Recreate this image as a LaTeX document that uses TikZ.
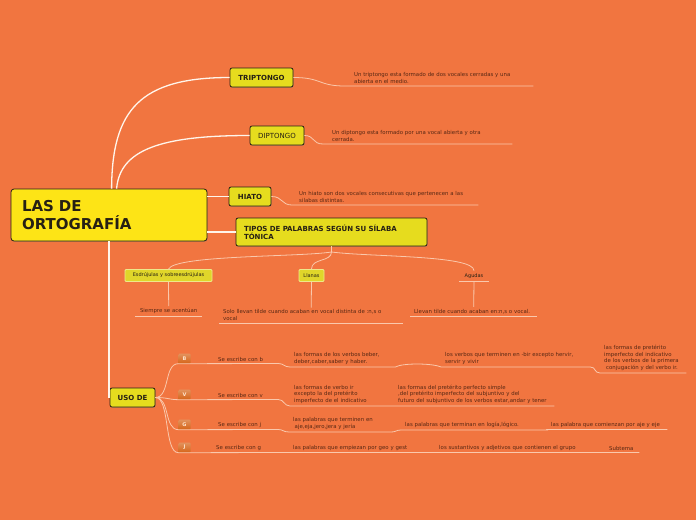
\documentclass[tikz,border=0pt]{standalone}
\usepackage{fontspec}
\setmainfont{DejaVu Sans}
\usetikzlibrary{shadows}
\definecolor{bgorange}{RGB}{241,117,64}
\definecolor{mainyellow}{RGB}{253,228,22}
\definecolor{topicyellow}{RGB}{230,220,30}
\definecolor{subyellow}{RGB}{224,214,42}
\definecolor{letterorange}{RGB}{214,100,24}
\definecolor{inkdark}{RGB}{38,32,20}
\definecolor{inkbrown}{RGB}{88,40,20}
\definecolor{twigpeach}{RGB}{250,200,172}

\begin{document}
\begin{tikzpicture}[x=1pt,y=-1pt,
  topic/.style={draw=inkdark,line width=0.8pt,fill=topicyellow,rounded corners=2pt,text=inkdark,
    font=\fontsize{7}{8}\selectfont\bfseries,inner sep=0pt,minimum height=19pt,
    drop shadow={shadow xshift=0.6pt,shadow yshift=-0.8pt,opacity=0.35}},
  subtopic/.style={draw=subyellow!55!white,line width=0.9pt,fill=subyellow,rounded corners=1pt,
    text=inkdark,font=\fontsize{5}{6}\selectfont,inner sep=0pt,minimum height=12pt},
  letter/.style={top color=letterorange!70!white,bottom color=letterorange,draw=none,rounded corners=1pt,
    text=white!80!orange,font=\fontsize{5}{5}\selectfont\bfseries,minimum width=12pt,minimum height=10pt,inner sep=0pt},
  leaf/.style={anchor=south west,inner xsep=4pt,inner ysep=2pt,align=left,text=inkbrown,
    font=\fontsize{5.4}{6.8}\selectfont},
  branch/.style={draw=white!92!orange,line width=1.3pt},
  twig/.style={draw=twigpeach,line width=0.8pt}]

\useasboundingbox (0,0) rectangle (696,520);
\fill[bgorange] (0,0) rectangle (696,520);

\node[draw=inkdark,line width=0.8pt,fill=mainyellow,rounded corners=3pt,text=inkdark,
  font=\fontsize{15}{18}\selectfont\bfseries,minimum width=196pt,minimum height=52pt,
  text width=174pt,inner xsep=11pt,align=left,
  drop shadow={shadow xshift=0.6pt,shadow yshift=-0.8pt,opacity=0.35}] (ortografia) at (109,215) {LAS DE\\ORTOGRAFÍA};

\node[topic,minimum width=63pt] (triptongo) at (261.5,77.5) {TRIPTONGO};
\node[topic,minimum width=54pt,font=\fontsize{7}{8}\selectfont] (diptongo) at (277,135.5) {DIPTONGO};
\node[topic,minimum width=42pt] (hiato) at (250,196.5) {HIATO};
\node[topic,minimum height=28pt,text width=175pt,inner xsep=8pt,align=left] (tipos) at (331.5,232) {TIPOS DE PALABRAS SEGÚN SU SÍLABA\\TÓNICA};
\node[topic,minimum width=45pt] (uso) at (132.5,397.5) {USO DE};

\node[leaf,inner xsep=9pt,text width=170pt] (tripnote) at (345,86) {Un triptongo esta formado de dos vocales cerradas y una\\abierta en el medio.};
\node[leaf,inner xsep=9pt,text width=171pt] (dipnote) at (323,144) {Un diptongo esta formado por una vocal abierta y otra\\cerrada.};
\node[leaf,inner xsep=7pt,text width=172pt] (hiatonote) at (292,205) {Un hiato son dos vocales consecutivas que pertenecen a las\\silabas distintas.};

\node[subtopic,minimum width=87pt] (esdrujulas) at (168.5,275.5) {Esdrújulas y sobreesdrújulas};
\node[subtopic,minimum width=25pt] (llanas) at (311.5,275.5) {Llanas};
\node[anchor=south,text=inkdark,font=\fontsize{5}{6}\selectfont,inner sep=0pt,minimum width=29pt,minimum height=10pt] (agudas) at (474,281) {Agudas};
\coordinate (tiposfork) at (331.5,252);

\node[leaf,align=center,text width=59pt] (siempre) at (135,316) {Siempre se acentúan};
\node[leaf,text width=176pt] (solo) at (219,323) {Solo llevan tilde cuando acaban en vocal distinta de :n,s o\\vocal};
\node[leaf,text width=119pt] (llevan) at (410,316) {Llevan tilde cuando acaban en:n,s o vocal.};

\node[letter] (lb) at (184.5,358.5) {B};
\node[letter] (lv) at (184.5,394.5) {V};
\node[letter] (lg) at (184.5,424.5) {G};
\node[letter] (lj) at (184.5,447.5) {J};

\node[leaf,text width=56pt] (bsub) at (214,363.5) {Se escribe con b};
\node[leaf,text width=97pt] (b1) at (290,367) {las formas de los verbos beber,\\deber,caber,saber y haber.};
\node[leaf,text width=141pt] (b2) at (441,367) {los verbos que terminen en -bir excepto hervir,\\servir y vivir};
\node[leaf,text width=78pt] (b3) at (600,373) {las formas de pretérito\\imperfecto del indicativo\\de los verbos de la primera\\\hspace{2pt}conjugación y del verbo ir.};

\node[leaf,text width=56pt] (vsub) at (214,399.5) {Se escribe con v};
\node[leaf,text width=95pt] (v1) at (290,406) {las formas de verbo ir\\excepto la del pretérito\\imperfecto de el indicativo};
\node[leaf,text width=152pt] (v2) at (394,406) {las formas del pretérito perfecto simple\\,del pretérito imperfecto del subjuntivo y del\\futuro del subjuntivo de los verbos estar,andar y tener};

\node[leaf,text width=56pt] (gsub) at (214,429.5) {Se escribe con j};
\node[leaf,text width=94pt] (g1) at (289,432) {las palabras que terminen en\\\hspace{1.5pt}aje,eja,jero,jera y jería};
\node[leaf,text width=138pt] (g2) at (401,430) {las palabras que terminan en logía,lógico.};
\node[leaf,text width=112pt] (g3) at (547,429.5) {las palabra que comienzan por aje y eje};

\node[leaf,text width=69pt] (jsub) at (212,452.5) {Se escribe con g};
\node[leaf,text width=138pt] (j1) at (289,452.5) {las palabras que empiezan por geo y gest};
\node[leaf,text width=162pt] (j2) at (435,452.5) {los sustantivos y adjetivos que contienen el grupo};
\node[leaf,text width=26pt] (j3) at (605,452.5) {Subtema};

\draw[branch] ([xshift=101pt]ortografia.north west) .. controls (112,110) and (140,77.5) .. (triptongo.west);
\draw[branch] ([xshift=106pt]ortografia.north west) .. controls (120,150) and (160,135.5) .. (diptongo.west);
\draw[branch] (hiato.west -| ortografia.east) -- (hiato.west);
\draw[branch] (tipos.west -| ortografia.east) -- (tipos.west);
\draw[branch] (ortografia.south) |- (uso.west);

\draw[twig] (triptongo.east) .. controls (322,77.5) and (318,86) .. (tripnote.south west) -- (tripnote.south east);
\draw[twig] (diptongo.east) .. controls (315,135.5) and (312,144) .. (dipnote.south west) -- (dipnote.south east);
\draw[twig] (hiato.east) .. controls (283,196.5) and (281,205) .. (hiatonote.south west) -- (hiatonote.south east);

\draw[twig] (tipos.south) -- (tiposfork);
\draw[twig] (tiposfork) .. controls (300,257) and (175,255) .. (esdrujulas.north);
\draw[twig] (tiposfork) .. controls (331.5,262) and (311.5,258) .. (llanas.north);
\draw[twig] (tiposfork) .. controls (370,257) and (474,255) .. (agudas.north);
\draw[twig] (agudas.south west) -- (agudas.south east);
\draw[twig] (esdrujulas.south) -- (siempre.north);
\draw[twig] (llanas.south) -- (solo.north);
\draw[twig] (agudas.south) -- (llevan.north);
\draw[twig] (siempre.south west) -- (siempre.south east);
\draw[twig] (solo.south west) -- (solo.south east);
\draw[twig] (llevan.south west) -- (llevan.south east);

\draw[twig] (uso.east) .. controls (170,397.5) and (164,363.5) .. (lb.south west) -- (bsub.south east)
  .. controls (284,363.5) and (284,367) .. (b1.south west) -- (b1.south east)
  .. controls (402,363) and (432,363) .. (b2.south west) -- (b2.south east)
  .. controls (596,367) and (594,373) .. (b3.south west) -- (b3.south east);
\draw[twig] (uso.east) .. controls (168,397.5) and (168,399.5) .. (lv.south west) -- (vsub.south east)
  .. controls (284,399.5) and (284,406) .. (v1.south west) -- (v1.south east)
  -- (v2.south west) -- (v2.south east);
\draw[twig] (uso.east) .. controls (170,397.5) and (164,429.5) .. (lg.south west) -- (gsub.south east)
  .. controls (283,429.5) and (283,432) .. (g1.south west) -- (g1.south east)
  .. controls (396,432) and (396,430) .. (g2.south west) -- (g2.south east)
  -- (g3.south west) -- (g3.south east);
\draw[twig] (uso.east) .. controls (170,397.5) and (164,452.5) .. (lj.south west) -- (jsub.south east)
  -- (j1.south west) -- (j1.south east) -- (j2.south west) -- (j2.south east)
  -- (j3.south west) -- (j3.south east);
\end{tikzpicture}
\end{document}
